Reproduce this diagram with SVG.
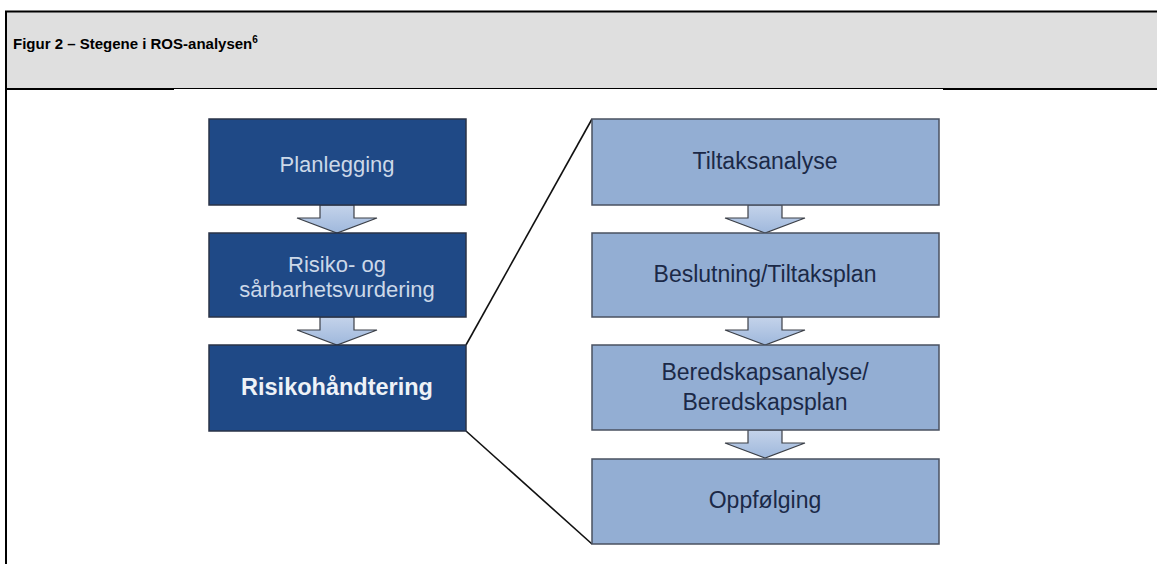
<svg xmlns="http://www.w3.org/2000/svg" width="1157" height="564" viewBox="0 0 1157 564">
<defs>
<style>
.dark{fill:#1f4986;stroke:#2a3347;stroke-width:1.5}
.light{fill:#93aed3;stroke:#4a5160;stroke-width:1.5}
.arrow{fill:url(#ag);stroke:#3c4048;stroke-width:1.2}
.t{font-family:"Liberation Sans",Arial,sans-serif;font-size:22px;text-anchor:middle}
.tl{fill:#ccd8e8}
.tw{fill:#eef2f7;font-weight:bold;font-size:23.5px}
.tr{fill:#1b2947;font-size:23px}
.conn{stroke:#111;stroke-width:1.6;fill:none}
</style>
<linearGradient id="ag" x1="0" y1="0" x2="0" y2="1">
<stop offset="0" stop-color="#c4d3ea"/>
<stop offset="1" stop-color="#9fb8dc"/>
</linearGradient>
<path id="arr" d="M-17,0 H17 V13 H40 L0,28 L-40,13 H-17 Z"/>
</defs>
<rect x="0" y="0" width="1157" height="564" fill="#fff"/>
<g id="header">
<rect x="6" y="12" width="1151" height="76" fill="#dfdfdf"/>
<line x1="5" y1="11.5" x2="1157" y2="11.5" stroke="#000" stroke-width="2"/>
<line x1="6" y1="11" x2="6" y2="564" stroke="#000" stroke-width="2"/>
<line x1="6" y1="88.5" x2="1157" y2="88.5" stroke="#000" stroke-width="1"/>
<line x1="6" y1="89.5" x2="174" y2="89.5" stroke="#000" stroke-width="1"/>
<line x1="943" y1="89.5" x2="1157" y2="89.5" stroke="#000" stroke-width="1"/>
<text x="13" y="49" font-family="Liberation Sans,Arial,sans-serif" font-size="15" font-weight="bold" fill="#000">Figur 2 – Stegene i ROS-analysen<tspan font-size="10" dy="-6">6</tspan></text>
</g>
<g id="connectors">
<line class="conn" x1="466" y1="345" x2="592" y2="119"/>
<line class="conn" x1="466" y1="431" x2="592" y2="544"/>
<use href="#arr" class="arrow" transform="translate(337,205)"/>
<use href="#arr" class="arrow" transform="translate(337,317)"/>
<use href="#arr" class="arrow" transform="translate(765,205)"/>
<use href="#arr" class="arrow" transform="translate(765,317)"/>
<use href="#arr" class="arrow" transform="translate(765,430)"/>
</g>
<g id="planlegging">
<rect class="dark" x="209" y="119" width="257" height="86"/>
<text class="t tl" x="337" y="172">Planlegging</text>
</g>
<g id="risikovurdering">
<rect class="dark" x="209" y="233" width="257" height="84"/>
<text class="t tl" x="337" y="272">Risiko- og</text>
<text class="t tl" x="337" y="297">sårbarhetsvurdering</text>
</g>
<g id="risikohandtering">
<rect class="dark" x="209" y="345" width="257" height="86"/>
<text class="t tw" x="337" y="395">Risikohåndtering</text>
</g>
<g id="tiltaksanalyse">
<rect class="light" x="592" y="119" width="347" height="86"/>
<text class="t tr" x="765" y="169">Tiltaksanalyse</text>
</g>
<g id="beslutning">
<rect class="light" x="592" y="233" width="347" height="84"/>
<text class="t tr" x="765" y="282">Beslutning/Tiltaksplan</text>
</g>
<g id="beredskap">
<rect class="light" x="592" y="345" width="347" height="85"/>
<text class="t tr" x="765" y="380">Beredskapsanalyse/</text>
<text class="t tr" x="765" y="410">Beredskapsplan</text>
</g>
<g id="oppfolging">
<rect class="light" x="592" y="459" width="347" height="85"/>
<text class="t tr" x="765" y="508">Oppfølging</text>
</g>
</svg>
